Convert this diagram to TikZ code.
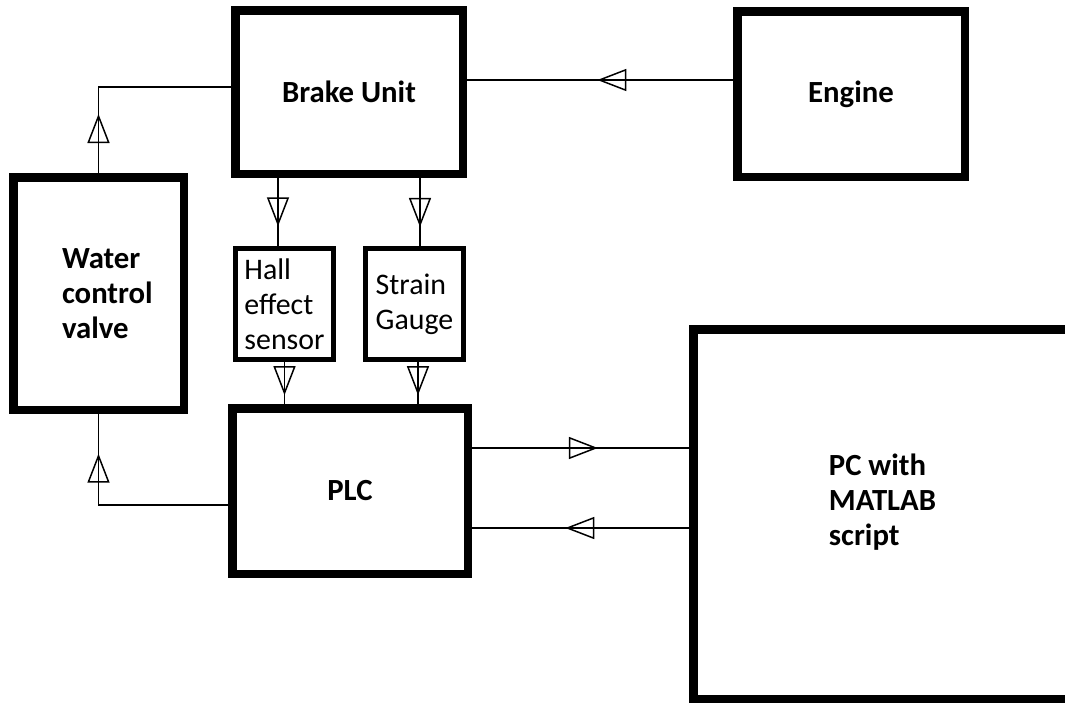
\documentclass[tikz,border=0pt]{standalone}
\usepackage{fontspec}
\setmainfont{Carlito}
\usetikzlibrary{arrows.meta,decorations.markings}

\begin{document}
\begin{tikzpicture}[
                unit/.style={draw, line width=0.17cm, align=left,
                             font=\fontsize{17.5}{20}\selectfont\bfseries},
                sensor/.style={draw, line width=0.1cm, align=left,
                               minimum width=1.96cm, minimum height=2.22cm,
                               font=\fontsize{17}{20}\selectfont},
                flow/.style={line width=0.85pt, postaction={decorate},
                             decoration={markings, mark=at position #1 with
                             {\arrow{Triangle[open, length=0.58cm, width=0.44cm]}}}}]
                \useasboundingbox (0,0) rectangle (21.3,-14.08);
                \node[unit, minimum width=4.55cm, minimum height=3.27cm] (brake)  at (6.98,-1.84)  {Brake Unit};
                \node[unit, minimum width=4.55cm, minimum height=3.31cm] (engine) at (17.02,-1.88) {Engine};
                \node[unit, minimum width=3.41cm, minimum height=4.65cm, text width=1.46cm] (valve) at (1.97,-5.87) {Water\\control\\valve};
                \node[sensor] (hall)   at (5.69,-6.08) {Hall\\effect\\sensor};
                \node[sensor] (strain) at (8.29,-6.08) {Strain\\Gauge};
                \node[unit, minimum width=4.71cm, minimum height=3.31cm] (plc)    at (7.00,-9.82)  {PLC};
                \node[unit, minimum width=7.57cm, minimum height=7.39cm] (pc)     at (17.65,-10.28) {PC with\\MATLAB\\script\\[-4pt]\mbox{}};

                \draw[flow=0.51] ([yshift=0.28cm]engine.west) -- ([yshift=0.28cm]engine.west -| brake.east);
                \draw[flow=0.27] (valve.north) |- ([yshift=0.1cm]brake.west);
                \draw[flow=0.71] ([xshift=-0.13cm]hall.north |- brake.south) -- ([xshift=-0.13cm]hall.north);
                \draw[flow=0.72] ([xshift=0.11cm]strain.north |- brake.south) -- ([xshift=0.11cm]strain.north);
                \draw[flow=0.79] (hall.south) -- (hall.south |- plc.north);
                \draw[flow=0.79] ([xshift=0.07cm]strain.south) -- ([xshift=0.07cm]strain.south |- plc.north);
                \draw[flow=0.82] ([yshift=-0.28cm]plc.west) -| (valve.south);
                \draw[flow=0.58] ([yshift=0.86cm]plc.east) -- ([yshift=0.86cm]plc.east -| pc.west);
                \draw[flow=0.57] ([yshift=-0.74cm]plc.east -| pc.west) -- ([yshift=-0.74cm]plc.east);
\end{tikzpicture}
\end{document}
